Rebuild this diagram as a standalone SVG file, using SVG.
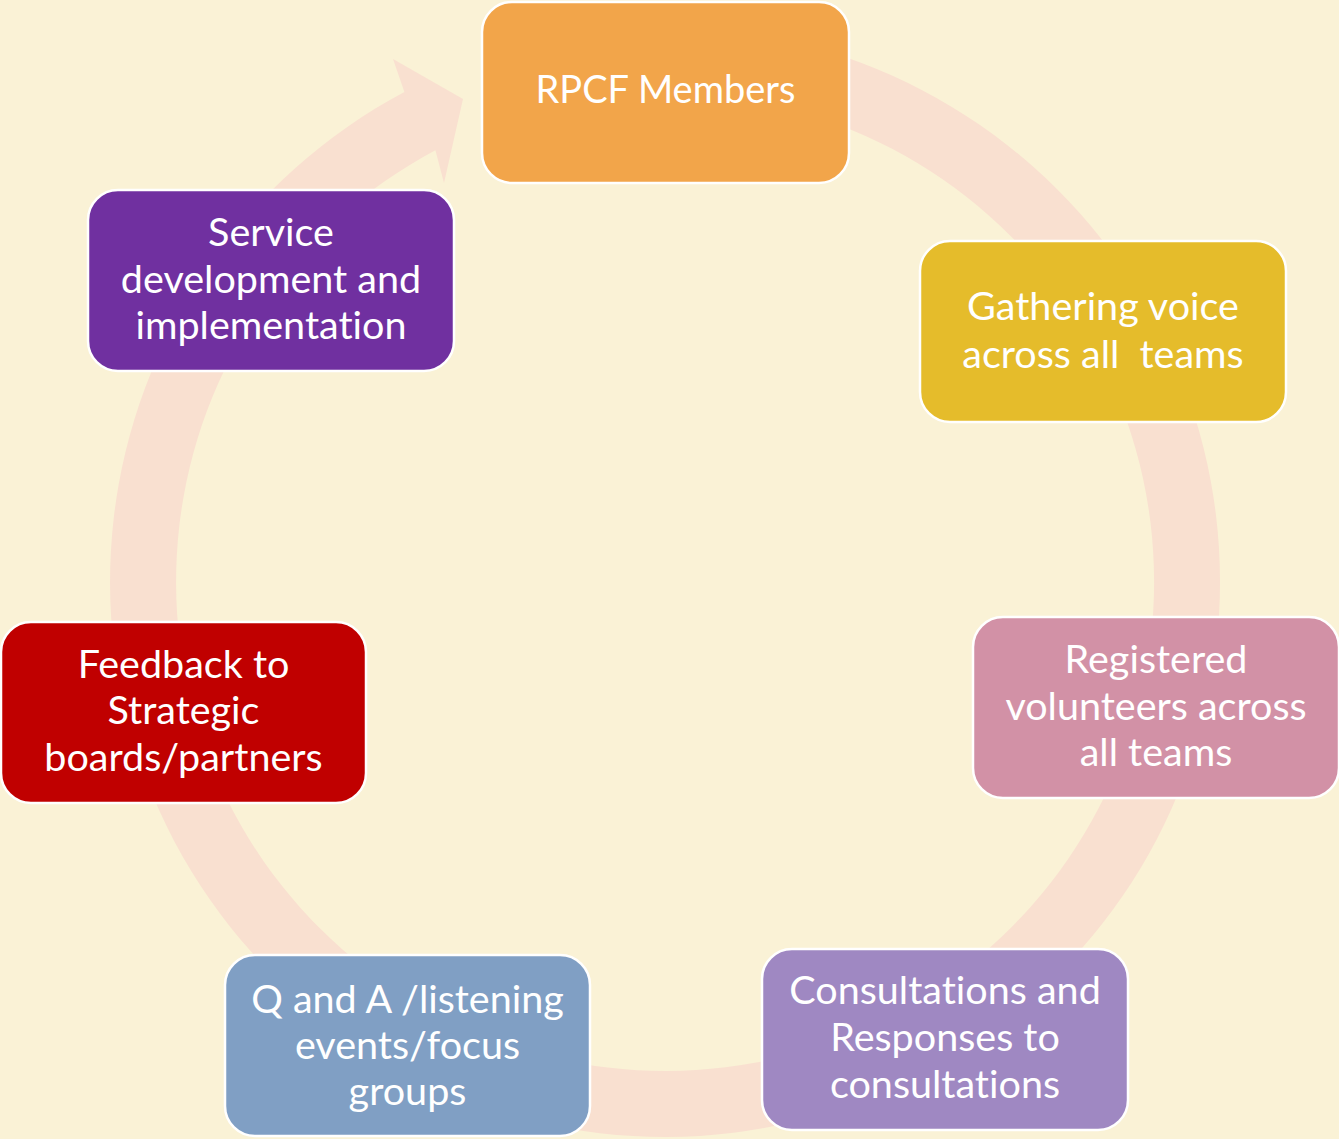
<svg xmlns="http://www.w3.org/2000/svg" width="1339" height="1139" viewBox="0 0 1339 1139">
<style>
.box{stroke:#ffffff;stroke-width:2.5}
.t{font-family:Lato,"Open Sans",sans-serif;font-size:39.5px;fill:#ffffff;text-anchor:middle;font-variant-ligatures:none}
</style>
<rect x="0" y="0" width="1339" height="1139" fill="#FAF2D6"/>
<g id="connectors">
<path d="M665 27 A555 555 0 1 1 404.4 92 L393 59 L463 99 L444 183 L435.4 150.3 A489 489 0 1 0 665 93 Z" fill="#F9E0D0"/>
</g>
<g id="n1"><rect class="box" x="482" y="2" width="367" height="181" rx="30" fill="#F2A54A"/>
<text class="t" x="665.5" y="103" style="font-size:38px">RPCF Members</text></g>
<g id="n2"><rect class="box" x="920" y="241" width="366" height="181" rx="30" fill="#E5BC2B"/>
<text class="t" x="1103" y="320">Gathering voice</text><text class="t" x="1103" y="368" xml:space="preserve">across all  teams</text></g>
<g id="n3"><rect class="box" x="973" y="617" width="366" height="181" rx="30" fill="#D291A6"/>
<text class="t" x="1156" y="673">Registered</text><text class="t" x="1156" y="720">volunteers across</text><text class="t" x="1156" y="766">all teams</text></g>
<g id="n4"><rect class="box" x="762" y="949" width="366" height="181" rx="30" fill="#9F88C2"/>
<text class="t" x="945" y="1004">Consultations and</text><text class="t" x="945" y="1051">Responses to</text><text class="t" x="945" y="1098">consultations</text></g>
<g id="n5"><rect class="box" x="225" y="955" width="365" height="181" rx="30" fill="#809FC4"/>
<text class="t" x="407.5" y="1013">Q and A /listening</text><text class="t" x="407.5" y="1059">events/focus</text><text class="t" x="407.5" y="1105">groups</text></g>
<g id="n6"><rect class="box" x="1" y="622" width="365" height="181" rx="30" fill="#C00000"/>
<text class="t" x="183.5" y="678">Feedback to</text><text class="t" x="183.5" y="724">Strategic</text><text class="t" x="183.5" y="771">boards/partners</text></g>
<g id="n7"><rect class="box" x="88" y="190" width="366" height="181" rx="30" fill="#7030A0"/>
<text class="t" x="271" y="246">Service</text><text class="t" x="271" y="293">development and</text><text class="t" x="271" y="339">implementation</text></g>
</svg>
